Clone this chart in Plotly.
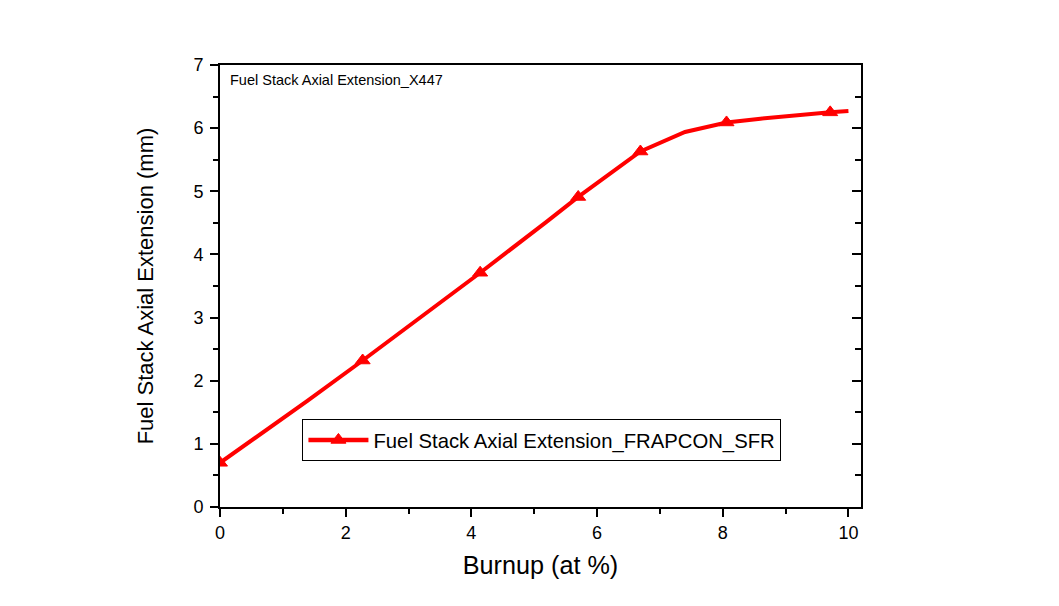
import plotly.graph_objects as go

# Data
burnup = [0.0, 0.7, 1.39, 2.27, 3.5, 4.14, 5.2, 5.70, 6.69, 7.4, 8.06, 8.6, 9.71, 10.0]
extension = [0.70, 1.19, 1.68, 2.32, 3.23, 3.71, 4.52, 4.91, 5.63, 5.94, 6.09, 6.15, 6.25, 6.27]
marker_burnup = [0.0, 2.27, 4.14, 5.70, 6.69, 8.06, 9.71]
marker_extension = [0.70, 2.32, 3.71, 4.91, 5.63, 6.09, 6.25]

series_name = "Fuel Stack Axial Extension_FRAPCON_SFR"
inner_label = "Fuel Stack Axial Extension_X447"
x_title = "Burnup (at %)"
y_title = "Fuel Stack Axial Extension (mm)"

FONT = "Liberation Sans, Arial, sans-serif"
RED = "#ff0000"

fig = go.Figure()
# line through all points
fig.add_trace(go.Scatter(
    x=burnup, y=extension, mode="lines", name=series_name,
    line=dict(color=RED, width=4), showlegend=False,
))
# triangle markers
fig.add_trace(go.Scatter(
    x=marker_burnup, y=marker_extension, mode="markers", name=series_name,
    marker=dict(symbol="triangle-up", size=13, color=RED, line=dict(width=1, color=RED)),
    showlegend=False,
))
# legend entry (line + marker)
fig.add_trace(go.Scatter(
    x=[None], y=[None], mode="lines+markers", name=series_name,
    line=dict(color=RED, width=4.5),
    marker=dict(symbol="triangle-up", size=13, color=RED, line=dict(width=1, color=RED)),
    showlegend=True,
))
# invisible trace so the right-side mirrored axis is drawn
fig.add_trace(go.Scatter(x=burnup, y=extension, yaxis="y2", mode="lines",
                         line=dict(width=0), opacity=0, showlegend=False, hoverinfo="skip"))

axis_common = dict(showgrid=False, zeroline=False, linecolor="black", linewidth=2,
                   tickcolor="black", tickwidth=1.5,
                   tickfont=dict(family=FONT, size=18, color="black"))

fig.update_layout(
    width=1059, height=606,
    margin=dict(l=219.5, r=198, t=65, b=99.3),
    paper_bgcolor="white", plot_bgcolor="white",
    font=dict(family=FONT, color="black"),
    xaxis=dict(range=[0, 10.2], tickmode="array", tickvals=[0, 2, 4, 6, 8, 10],
               ticks="outside", ticklen=8, mirror=True,
               minor=dict(tickvals=[1, 3, 5, 7, 9], ticks="outside", ticklen=5,
                          tickcolor="black", tickwidth=1.5),
               title=dict(text=x_title, font=dict(family=FONT, size=25.2, color="black"), standoff=15),
               **axis_common),
    yaxis=dict(range=[0, 7], tickmode="array", tickvals=[0, 1, 2, 3, 4, 5, 6, 7],
               ticks="outside", ticklen=8, ticklabelstandoff=3,
               minor=dict(tickvals=[0.5, 1.5, 2.5, 3.5, 4.5, 5.5, 6.5], ticks="outside", ticklen=5,
                          tickcolor="black", tickwidth=1.5),
               title=dict(text=y_title, font=dict(family=FONT, size=22, color="black"), standoff=34),
               **axis_common),
    yaxis2=dict(range=[0, 7], overlaying="y", side="right", anchor="x",
                tickmode="array", tickvals=[0, 1, 2, 3, 4, 5, 6, 7],
                ticks="inside", ticklen=9, showticklabels=False,
                minor=dict(tickvals=[0.5, 1.5, 2.5, 3.5, 4.5, 5.5, 6.5], ticks="inside", ticklen=6,
                           tickcolor="black", tickwidth=1.5),
                **axis_common),
    legend=dict(x=0.1286, y=0.151, xanchor="left", yanchor="middle",
                bgcolor="white", bordercolor="black", borderwidth=1,
                font=dict(family=FONT, size=20.3, color="black"),
                itemwidth=60),
    annotations=[dict(text=inner_label, xref="paper", yref="paper", x=0.0125, y=0.965,
                      xanchor="left", yanchor="middle", showarrow=False,
                      font=dict(family=FONT, size=14.5, color="black"))],
)

fig.write_html("out.html")
